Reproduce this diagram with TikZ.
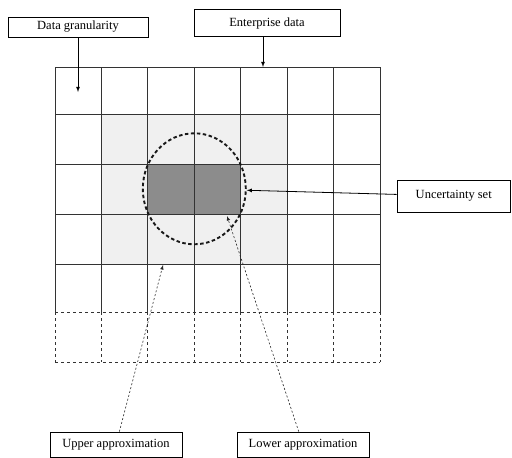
\documentclass[tikz,border=0pt]{standalone}
\usepackage{fontspec}
\setmainfont{Liberation Serif}
\usepackage{tikz}
\usetikzlibrary{positioning,arrows.meta,shapes.geometric}
\colorlet{lightcell}{black!6}
\colorlet{darkcell}{black!45}
\newcommand*{\datagrid}[3]{% solid top, solid bottom, dashed bottom
		\foreach \x in {0,...,7}
   		\draw[gridline] (55+46.43*\x,#1) -- (55+46.43*\x,#2);
		\foreach \y in {67,114,164,214,264}
   		\draw[gridline] (55,\y) -- (380,\y);
		\foreach \x in {0,...,7}
   		\draw[gridline,dashed] (55+46.43*\x,#2) -- (55+46.43*\x,#3);
		\foreach \y in {#2,#3}
   		\draw[gridline,dashed] (55,\y) -- (380,\y);
}
\tikzset{gridline/.style={draw=black!80, line width=0.8pt}}
\tikzset{labelbox/.style={draw=black, line width=0.8pt, fill=white, inner sep=0pt, minimum height=#1},
labelbox/.default={20pt}}
\tikzset{setline/.style={draw=black!90, line width=1.9pt, dash pattern=on 3.5pt off 2.5pt}}
\tikzset{guide/.style={draw=black!85, line width=0.6pt, dash pattern=on 2pt off 2pt, -latex}}

\begin{document}
\begin{tikzpicture}[x=1pt,y=-1pt,font=\fontsize{12.5}{14}\selectfont]
		\useasboundingbox (0,0) rectangle (512,458);
		% shaded cells
		\fill[lightcell] (101.43,114) rectangle (287.15,264);
		\fill[darkcell] (147.86,164) rectangle (240.72,214);
		\datagrid{67}{312}{362}
		\node[setline, ellipse, minimum width=103pt, minimum height=111pt, inner sep=0pt] (uset) at (194.3,188.8) {};
		% labels
		\node[labelbox, minimum width=140pt] (granularity) at (78,27) {Data granularity};
		\node[labelbox=27pt, minimum width=146pt] (enterprise) at (267,23) {Enterprise data};
		\node[labelbox=32pt, minimum width=113.5pt] (uncertainty) at (453.75,196) {Uncertainty set};
		\node[labelbox=25pt, minimum width=132pt] (upper) at (116,444.5) {Upper approximation};
		\node[labelbox=25pt, minimum width=132pt] (lower) at (303,444.5) {Lower approximation};
		\coordinate (cell) at (78,92);
		\coordinate (gridtop) at (263,67);
		\coordinate (upperend) at (163,265);
		\coordinate (lowerend) at (227,216);
		\draw[-latex, line width=0.8pt] (granularity) -- (cell);
		\draw[-latex, line width=0.8pt] (enterprise.south -| gridtop) -- (gridtop);
		\draw[-latex, line width=0.8pt] (uncertainty) -- (uset);
		\draw[guide] (upper) -- (upperend);
		\draw[guide] (lower) -- (lowerend);
	\end{tikzpicture}
\end{document}
